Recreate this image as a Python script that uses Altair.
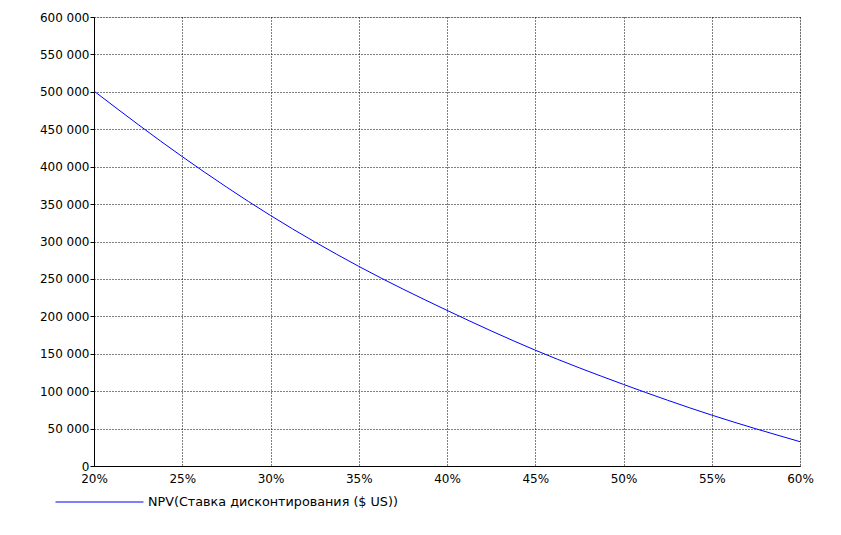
import altair as alt
import pandas as pd

rates = [20, 25, 30, 35, 40, 45, 50, 55, 60]
npv = [501000, 413400, 334800, 266800, 208000, 154800, 109000, 68000, 32500]
series_name = "NPV(Ставка дисконтирования ($ US))"

x_ticks = [20, 25, 30, 35, 40, 45, 50, 55, 60]
y_ticks = [0, 50000, 100000, 150000, 200000, 250000, 300000, 350000, 400000, 450000, 500000, 550000, 600000]

df = pd.DataFrame({"rate": rates, "npv": npv, "series": [series_name] * len(rates)})

FONT = "DejaVu Sans"

chart = alt.Chart(df).mark_line(strokeWidth=1, interpolate="monotone").encode(
    x=alt.X("rate:Q",
            scale=alt.Scale(domain=[20, 60], nice=False, zero=False),
            axis=alt.Axis(values=x_ticks, labelExpr="datum.value + '%'", title=None,
                          grid=True, gridColor="black", gridDash=[1, 2], gridOpacity=1,
                          domainColor="black", ticks=False, labelPadding=7,
                          labelColor="black", labelFont=FONT, labelFontSize=12,
                          labelFlush=False)),
    y=alt.Y("npv:Q",
            scale=alt.Scale(domain=[0, 600000], nice=False),
            axis=alt.Axis(values=y_ticks,
                          labelExpr="datum.value == 0 ? '0' : floor(datum.value / 1000) + ' 000'",
                          title=None, grid=True, gridColor="black", gridDash=[1, 2], gridOpacity=1,
                          domainColor="black", tickColor="black", tickSize=4, labelPadding=1,
                          labelColor="black", labelFont=FONT, labelFontSize=12)),
    color=alt.Color("series:N",
                    scale=alt.Scale(range=["#0000ff"]),
                    legend=alt.Legend(orient="none", legendX=-39, legendY=440.5, title=None,
                                      symbolType="stroke", symbolSize=7744, symbolStrokeWidth=1,
                                      symbolStrokeColor="#0000ff", labelLimit=0,
                                      labelFont=FONT, labelFontSize=12.75, labelColor="black",
                                      labelOffset=4, padding=0)),
).properties(
    width=706, height=449,
    autosize=alt.AutoSizeParams(type="none"),
    padding={"left": 86, "top": 9, "right": 30, "bottom": 55},
).configure_view(stroke=None).configure(background="white")

chart.save("out.html", embed_options={"renderer": "svg", "actions": False})
